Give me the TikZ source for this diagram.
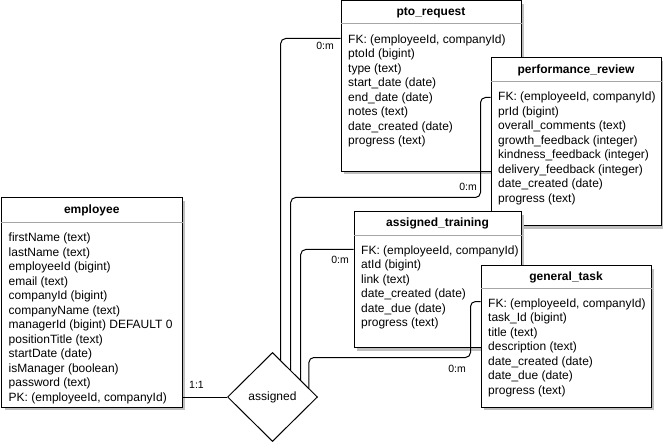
\documentclass[tikz,border=0pt]{standalone}
\usepackage{fontspec}
\setmainfont{Liberation Sans}
\usetikzlibrary{shapes.geometric,shadows,calc}
\begin{document}
\begin{tikzpicture}[x=1pt,y=-1pt,
  tbl/.style={draw=black,line width=1pt,fill=white,anchor=north west,inner sep=0pt,
    general shadow={fill=black!25,shadow xshift=3pt,shadow yshift=-3pt}},
  sepline/.style={draw=black!35,line width=1pt},
  ttl/.style={font=\fontsize{12}{14.5}\selectfont\bfseries,anchor=base,inner sep=0pt},
  body/.style={font=\fontsize{12}{14.5}\selectfont,align=left,anchor=north west,inner sep=0pt},
  conn/.style={draw=black,line width=1pt,rounded corners=5pt},
  lbl/.style={font=\fontsize{10.5}{12}\selectfont,inner sep=0pt},
  rel/.style={diamond,draw=black,line width=1pt,fill=white,minimum width=90pt,minimum height=89pt,inner sep=0pt,font=\fontsize{12}{14.5}\selectfont}]
\useasboundingbox (0,0) rectangle (663,443);

% employee
\node[tbl,minimum width=180.5pt,minimum height=209pt] (emp) at (1,197.5) {};
\draw[sepline] ($(emp.north west)+(0,25)$) -- ($(emp.north east)+(0,25)$);
\node[ttl] (empt) at ($(emp.north)+(0,16)$) {employee};
\node[body] (empb) at ($(emp.north west)+(7.5,35.5)$) {firstName (text)\\lastName (text)\\employeeId (bigint)\\email (text)\\companyId (bigint)\\companyName (text)\\managerId (bigint) DEFAULT 0\\positionTitle (text)\\startDate (date)\\isManager (boolean)\\password (text)\\PK: (employeeId, companyId)};

% pto_request
\node[tbl,minimum width=180pt,minimum height=170.5pt] (pto) at (340.5,0.5) {};
\draw[sepline] ($(pto.north west)+(0,23.5)$) -- ($(pto.north east)+(0,23.5)$);
\node[ttl] (ptot) at ($(pto.north)+(0,15.5)$) {pto\_request};
\node[body] (ptob) at ($(pto.north west)+(7.5,34)$) {FK: (employeeId, companyId)\\ptoId (bigint)\\type (text)\\start\_date (date)\\end\_date (date)\\notes (text)\\date\_created (date)\\progress (text)};

% performance_review
\node[tbl,minimum width=170pt,minimum height=168pt] (perf) at (490.5,57.5) {};
\draw[sepline] ($(perf.north west)+(0,24)$) -- ($(perf.north east)+(0,24)$);
\node[ttl] (perft) at ($(perf.north)+(0,16)$) {performance\_review};
\node[body] (perfb) at ($(perf.north west)+(7.5,34.5)$) {FK: (employeeId, companyId)\\prId (bigint)\\overall\_comments (text)\\growth\_feedback (integer)\\kindness\_feedback (integer)\\delivery\_feedback (integer)\\date\_created (date)\\progress (text)};

% assigned_training
\node[tbl,minimum width=167pt,minimum height=135.5pt] (at) at (353.5,211.5) {};
\draw[sepline] ($(at.north west)+(0,24)$) -- ($(at.north east)+(0,24)$);
\node[ttl] (att) at ($(at.north)+(0,15.5)$) {assigned\_training};
\node[body] (atb) at ($(at.north west)+(7.5,34)$) {FK: (employeeId, companyId)\\atId (bigint)\\link (text)\\date\_created (date)\\date\_due (date)\\progress (text)};

% general_task
\node[tbl,minimum width=170pt,minimum height=141pt] (gt) at (480.5,265.5) {};
\draw[sepline] ($(gt.north west)+(0,23)$) -- ($(gt.north east)+(0,23)$);
\node[ttl] (gtt) at ($(gt.north)+(0,15)$) {general\_task};
\node[body] (gtb) at ($(gt.north west)+(7.5,33)$) {FK: (employeeId, companyId)\\task\_Id (bigint)\\title (text)\\description (text)\\date\_created (date)\\date\_due (date)\\progress (text)};

% relationship
\node[rel] (dia) at (272.5,397) {assigned};
\coordinate (p1) at ($(dia.north)!0.18!(dia.east)$);
\coordinate (p2) at ($(dia.north)!0.40!(dia.east)$);
\coordinate (p3) at ($(dia.north)!0.62!(dia.east)$);
\coordinate (p4) at ($(dia.north)!0.80!(dia.east)$);

% connectors
\draw[conn] (dia.west) -- (dia.west -| emp.east);
\draw[conn] (p1) |- ($(pto.north west)+(0,38)$);
\draw[conn] (p2) |- ($(perf.north west)+(-10,140)$) |- ($(perf.north west)+(0,40)$);
\draw[conn] (p3) |- ($(at.north west)+(0,38)$);
\draw[conn] (p4) |- ($(gt.north west)+(-10,92)$) |- ($(gt.north west)+(0,36)$);

% labels
\node[lbl] (l0) at (196.5,384.5) {1:1};
\node[lbl] (l1) at (325,46) {0:m};
\node[lbl] (l2) at (468,187) {0:m};
\node[lbl] (l3) at (340,259.5) {0:m};
\node[lbl] (l4) at (457,368.5) {0:m};
\end{tikzpicture}
\end{document}
